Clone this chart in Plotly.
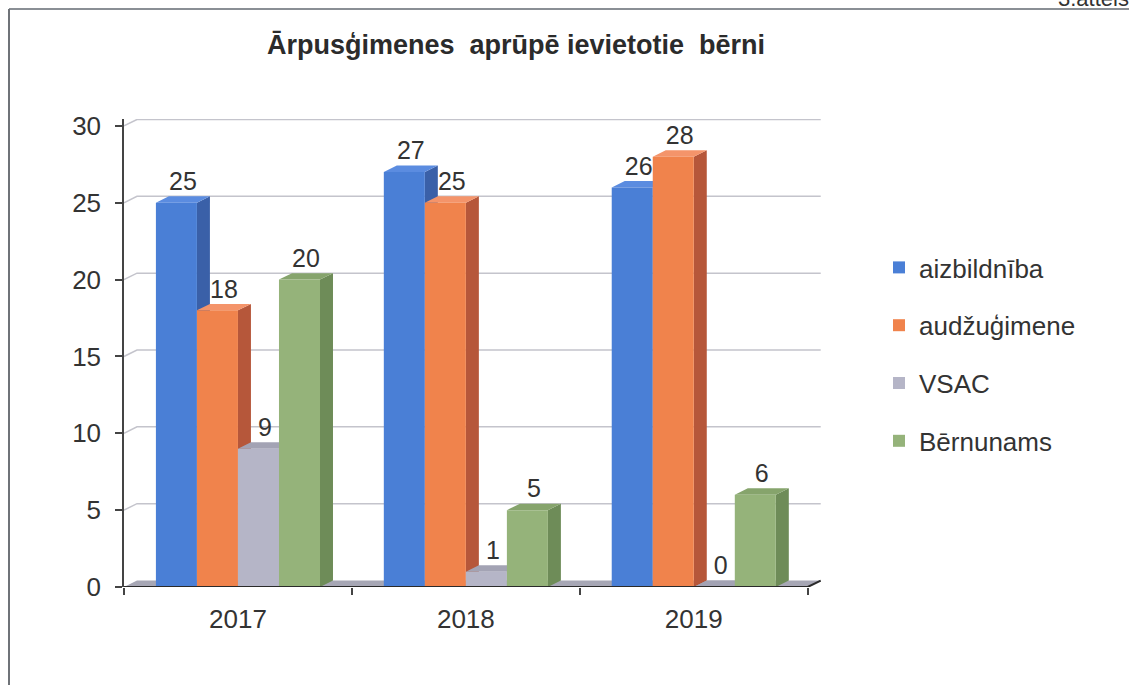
import plotly.graph_objects as go

# ---- data ----
years = ["2017", "2018", "2019"]
series_names = ["aizbildnība", "audžuģimene", "VSAC", "Bērnunams"]
aizbildniba = [25, 27, 26]
audzugimene = [18, 25, 28]
vsac = [9, 1, 0]
bernunams = [20, 5, 6]
y_ticks = [0, 5, 10, 15, 20, 25, 30]

values = [aizbildniba, audzugimene, vsac, bernunams]

# ---- styles ----
front_col = ["#4a7fd6", "#f0834c", "#b5b5c7", "#95b37a"]
side_col = ["#3a60a8", "#b6573a", "#8d8d9e", "#6e8c58"]
top_col = ["#5b8ce0", "#f4946a", "#a3a3b4", "#86a46c"]
FONT = "Liberation Sans, Arial, sans-serif"
TXT = "#333333"

W = 0.18          # bar width (category units)
DX = 0.057        # 3D depth, x
DY = 0.42         # 3D depth, y
XR = [-0.5, 2.5 + DX + 0.01]
YR = [0, 30.45]

fig = go.Figure()
shapes = []

# floor
shapes.append(dict(type="path", xref="x", yref="y", layer="below",
                   path=f"M{XR[0]},0 L2.5,0 L{2.5+DX},{DY} L{XR[0]+DX},{DY} Z",
                   fillcolor="#a7a7b5", line=dict(width=0)))
# back-wall gridlines
for t in y_ticks[1:]:
    shapes.append(dict(type="path", xref="x", yref="y", layer="below",
                       path=f"M-0.5,{t} L{-0.5+DX},{t+DY} L{2.5+DX},{t+DY}",
                       line=dict(color="#c4c4cc", width=1.5)))

n = len(series_names)
lab_x, lab_y, lab_t = [], [], []
for j in range(n):
    xs = []
    for i in range(len(years)):
        v = values[j][i]
        x0 = i + (j - n / 2) * W
        x1 = x0 + W
        xs.append(x0 + W / 2)
        # side face
        shapes.append(dict(type="path", xref="x", yref="y", layer="below",
                           path=f"M{x1},0 L{x1+DX},{DY} L{x1+DX},{v+DY} L{x1},{v} Z",
                           fillcolor=side_col[j], line=dict(width=0)))
        # top face
        shapes.append(dict(type="path", xref="x", yref="y", layer="below",
                           path=f"M{x0},{v} L{x1},{v} L{x1+DX},{v+DY} L{x0+DX},{v+DY} Z",
                           fillcolor=top_col[j], line=dict(width=0)))
        lab_x.append(x0 + W / 2 + DX / 2)
        lab_y.append(v + DY)
        lab_t.append(str(v))
    fig.add_trace(go.Bar(x=xs, y=values[j], width=W, name=series_names[j],
                         marker=dict(color=front_col[j], line=dict(width=0)),
                         legendgroup=series_names[j]))

fig.add_trace(go.Scatter(x=lab_x, y=lab_y, text=lab_t, mode="text",
                         textposition="top center", showlegend=False,
                         textfont=dict(family=FONT, size=25, color=TXT),
                         cliponaxis=False, hoverinfo="skip"))

# front x-axis line with depth diagonal
shapes.append(dict(type="path", xref="x", yref="y", layer="above",
                   path=f"M-0.5,0 L2.5,0 L{2.5+DX},{DY}",
                   line=dict(color="#2a2a2a", width=2)))

# outer frame (top and left edges of the scanned box)
L, T, R, B = 124, 119, 306, 98
PW, PH = 1129 - L - R, 685 - T - B

def px_x(p):
    return (p - L) / PW

def px_y(p):
    return (685 - B - p) / PH

shapes.append(dict(type="line", xref="paper", yref="paper",
                   x0=px_x(9), x1=px_x(1135), y0=px_y(9), y1=px_y(9),
                   line=dict(color="#8a8f95", width=2)))
shapes.append(dict(type="line", xref="paper", yref="paper",
                   x0=px_x(9), x1=px_x(9), y0=px_y(9), y1=px_y(700),
                   line=dict(color="#6f7378", width=2)))

fig.update_layout(
    width=1129, height=685,
    margin=dict(l=L, r=R, t=T, b=B, autoexpand=False),
    paper_bgcolor="white", plot_bgcolor="white",
    barmode="overlay",
    shapes=shapes,
    font=dict(family=FONT, color=TXT),
    title=dict(text="<b>Ārpusģimenes  aprūpē ievietotie  bērni</b>",
               x=516 / 1129, xanchor="center", y=1 - 45 / 685, yanchor="middle",
               font=dict(family=FONT, size=27, color="#2b2b2b")),
    showlegend=True,
    legend=dict(x=px_x(879), xanchor="left", y=px_y(244), yanchor="top",
                font=dict(family=FONT, size=26, color=TXT),
                tracegroupgap=21, traceorder="grouped",
                bgcolor="rgba(0,0,0,0)"),
    annotations=[dict(text="3.attēls", xref="paper", yref="paper",
                      x=px_x(1131), xanchor="right", y=px_y(13), yanchor="bottom",
                      showarrow=False, font=dict(family=FONT, size=22, color=TXT))],
)

fig.update_xaxes(range=XR, tickmode="array", tickvals=[0, 1, 2], ticktext=years,
                 ticks="", showgrid=False, zeroline=False, showline=False,
                 ticklabelstandoff=14,
                 tickfont=dict(family=FONT, size=26, color=TXT),
                 minor=dict(ticks="outside", tickmode="array",
                            tickvals=[-0.5, 0.5, 1.5, 2.5],
                            ticklen=7, tickwidth=1.5, tickcolor="#444",
                            showgrid=False))
fig.update_yaxes(range=YR, tickmode="array", tickvals=y_ticks,
                 ticks="outside", ticklen=7, tickwidth=1.5, tickcolor="#444",
                 showline=True, linecolor="#444", linewidth=1.5,
                 showgrid=False, zeroline=False,
                 ticklabelstandoff=9,
                 tickfont=dict(family=FONT, size=26, color=TXT))

fig.write_html("out.html", config={"displayModeBar": False},
               post_script="document.body.style.margin='0px';")
